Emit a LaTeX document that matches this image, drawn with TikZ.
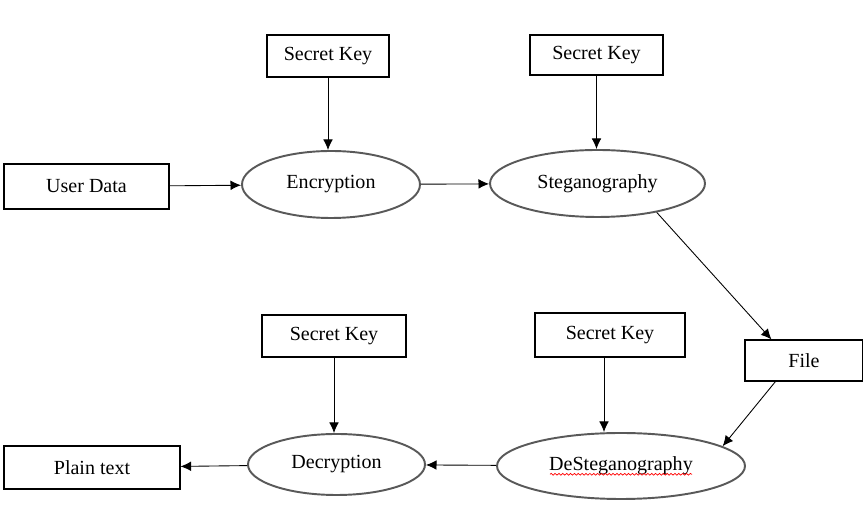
\documentclass[tikz,border=0pt]{standalone}
\usepackage{fontspec}
\setmainfont{Liberation Serif}
\usetikzlibrary{positioning, shapes.geometric, arrows, arrows.meta, decorations.pathmorphing}
\tikzset{
	block/.style={
		rectangle,
		draw,
		line width=0.6pt,
		text centered,
		inner sep=0pt,
		font=\fontsize{11.4}{13}\selectfont,
	},
	oval/.style={
		ellipse,
		draw=black!65,
		line width=1.1pt,
		inner sep=0pt,
		font=\fontsize{11.4}{13}\selectfont,
	},
}

\begin{document}
\begin{tikzpicture}[>={Latex[length=6pt, width=5.5pt]}, line width=0.5pt]
		\useasboundingbox (0,0) rectangle (17.26,-10.52);
		% top row
		\node [block, minimum width=2.44cm, minimum height=0.84cm] (key1) at (6.56,-1.12) {Secret Key};
		\node [block, minimum width=2.66cm, minimum height=0.80cm] (key2) at (11.93,-1.10) {Secret Key};
		\node [block, minimum width=3.30cm, minimum height=0.90cm] (user) at (1.73,-3.73) {User Data};
		\node [oval, minimum width=3.56cm, minimum height=1.34cm] (enc) at (6.62,-3.69) {Encryption};
		\node [oval, minimum width=4.30cm, minimum height=1.34cm] (steg) at (11.95,-3.67) {Steganography};
		\node [block, minimum width=2.36cm, minimum height=0.82cm] (file) at (16.08,-7.21) {File};
		% bottom row
		\node [block, minimum width=2.88cm, minimum height=0.84cm] (key3) at (6.68,-6.72) {Secret Key};
		\node [block, minimum width=3.00cm, minimum height=0.88cm] (key4) at (12.20,-6.70) {Secret Key};
		\node [block, minimum width=3.52cm, minimum height=0.86cm] (plain) at (1.84,-9.35) {Plain text};
		\node [oval, minimum width=3.54cm, minimum height=1.22cm] (dec) at (6.73,-9.29) {Decryption};
		\node [oval, minimum width=4.96cm, minimum height=1.32cm] (desteg) at (12.42,-9.32) {DeSteganography};
		
		\draw [->] (key1) to (key1 |- enc.north);
		\draw [->] (key2) to (key2 |- steg.north);
		\draw [->] (user) to (enc);
		\draw [->] (enc) to (steg);
		\draw [->] (steg.-26) to ([xshift=0.54cm]file.north west);
		\draw [->] ([xshift=0.62cm]file.south west) to (desteg.11);
		\draw [->] (key3) to (key3 |- dec.north);
		\draw [->] ([xshift=-0.12cm]key4.south) to ([xshift=-0.12cm]key4.south |- desteg.north);
		\draw [->] (desteg) to (dec);
		\draw [->] (dec) to (plain);
		% spell check underline
		\draw [red, line width=0.4pt, decorate, decoration={snake, amplitude=0.5pt, segment length=2.2pt}]
			([xshift=-1.42cm, yshift=-0.07cm]desteg.base) -- ([xshift=1.42cm, yshift=-0.07cm]desteg.base);
	\end{tikzpicture}
\end{document}
